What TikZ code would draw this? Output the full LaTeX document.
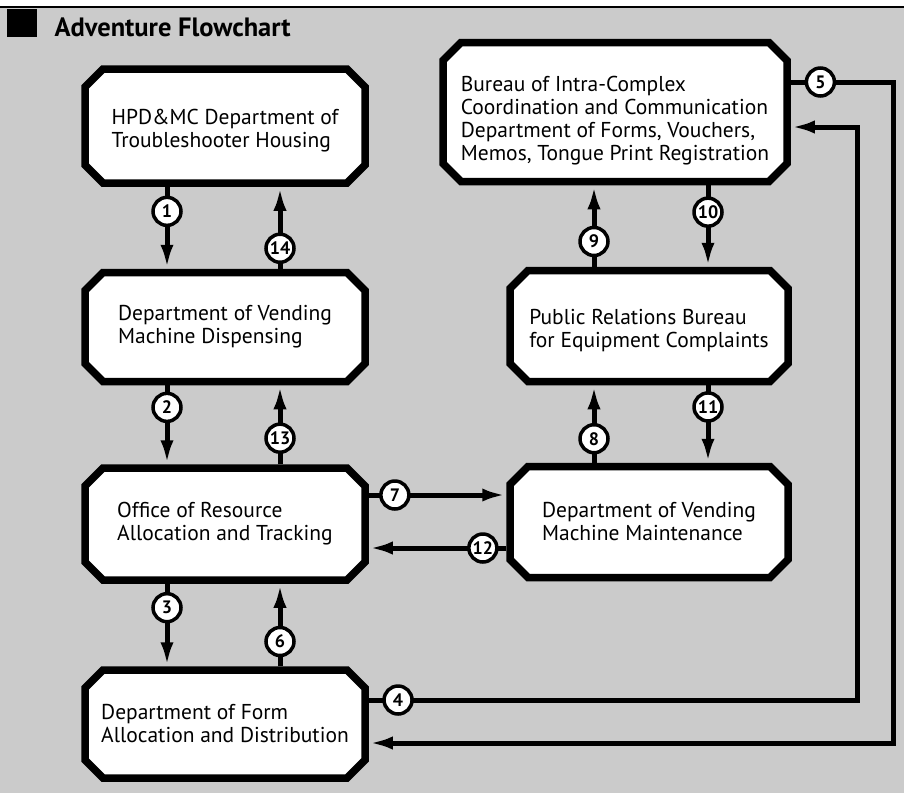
\documentclass[tikz,border=0pt]{standalone}
\usepackage{fontspec}
\setmainfont{PT Sans}
\usetikzlibrary{shapes.misc,arrows.meta}
\definecolor{paper}{RGB}{203,203,203}
\begin{document}
\begin{tikzpicture}[x=1pt,y=-1pt,
  office/.style={chamfered rectangle, chamfered rectangle xsep=9pt, chamfered rectangle ysep=9pt,
    draw, line width=7.5pt, fill=white, inner sep=0pt, align=left,
    font=\fontsize{21.5}{23}\selectfont},
  flow/.style={line width=5pt, -{Latex[length=24pt,width=13pt]}},
  num/.style={circle, draw, line width=3.5pt, fill=white, inner sep=0pt, minimum size=28pt,
    font=\bfseries\fontsize{18}{18}\selectfont}]
\useasboundingbox (0,0) rectangle (904,793);
\fill[paper] (0,0) rectangle (904,793);
\fill[white] (0,0) rectangle (904,6);
\draw[line width=2pt] (0,7) -- (904,7);
\fill (7,9) rectangle (37,37);
\node[anchor=west, font=\bfseries\fontsize{26.5}{26.5}\selectfont] (title) at (51,27) {Adventure Flowchart};
% left column
\node[office, minimum width=280, minimum height=114] (hpd) at (225,126) {\rule{0pt}{24pt}HPD\&MC Department of\\Troubleshooter Housing};
\node[office, minimum width=280, minimum height=109] (dvd) at (225,327) {Department of Vending\\Machine Dispensing};
\node[office, minimum width=280, minimum height=112] (ora) at (225,524) {Office of Resource\\Allocation and Tracking};
\node[office, minimum width=280, minimum height=108] (dfa) at (225,724) {Department of Form\\Allocation and Distribution};
% right column
\node[office, minimum width=344, minimum height=139] (bic) at (615,112) {\rule{0pt}{33pt}Bureau of Intra-Complex\\Coordination and Communication\\Department of Forms, Vouchers,\\Memos, Tongue Print Registration};
\node[office, minimum width=278, minimum height=111] (prb) at (649,326) {\rule{0pt}{24pt}Public Relations Bureau\\for Equipment Complaints};
\node[office, minimum width=278, minimum height=111] (dvm) at (649,522) {Department of Vending\\Machine Maintenance};
\coordinate (r4) at (857,0);
\coordinate (r5) at (893,0);
% left column arrows
\draw[flow] ([xshift=-58]hpd.south) -- node[num, pos=0.3] {1} ([xshift=-58]dvd.north);
\draw[flow] ([xshift=55]dvd.north) -- node[num, pos=0.25] {14} ([xshift=55]hpd.south);
\draw[flow] ([xshift=-58]dvd.south) -- node[num, pos=0.28] {2} ([xshift=-58]ora.north);
\draw[flow] ([xshift=55]ora.north) -- node[num, pos=0.33] {13} ([xshift=55]dvd.south);
\draw[flow] ([xshift=-58]ora.south) -- node[num, pos=0.29] {3} ([xshift=-58]dfa.north);
\draw[flow] ([xshift=55]dfa.north) -- node[num, pos=0.3] {6} ([xshift=55]ora.south);
% right column arrows
\draw[flow] ([xshift=-55]prb.north) -- node[num, pos=0.31] {9} ([xshift=-55]prb.north |- bic.south);
\draw[flow] ([xshift=59]prb.north |- bic.south) -- node[num, pos=0.33] {10} ([xshift=59]prb.north);
\draw[flow] ([xshift=-55]dvm.north) -- node[num, pos=0.31] {8} ([xshift=-55]prb.south);
\draw[flow] ([xshift=59]prb.south) -- node[num, pos=0.28] {11} ([xshift=59]dvm.north);
% across
\draw[flow] ([yshift=29]ora.east) -- node[num, pos=0.19] {7} ([yshift=29]ora.east -| dvm.west);
\draw[flow] ([yshift=-24]ora.east -| dvm.west) -- node[num, pos=0.17] {12} ([yshift=-24]ora.east);
\draw[flow] ([yshift=24]dfa.east) -- node[num, pos=0.06] {4} ([yshift=24]dfa.east -| r4) |- ([yshift=-15]bic.east);
\draw[flow] ([yshift=30]bic.east) -- node[num, pos=0.29] {5} ([yshift=30]bic.east -| r5) |- ([yshift=-19]dfa.east);
\end{tikzpicture}
\end{document}
